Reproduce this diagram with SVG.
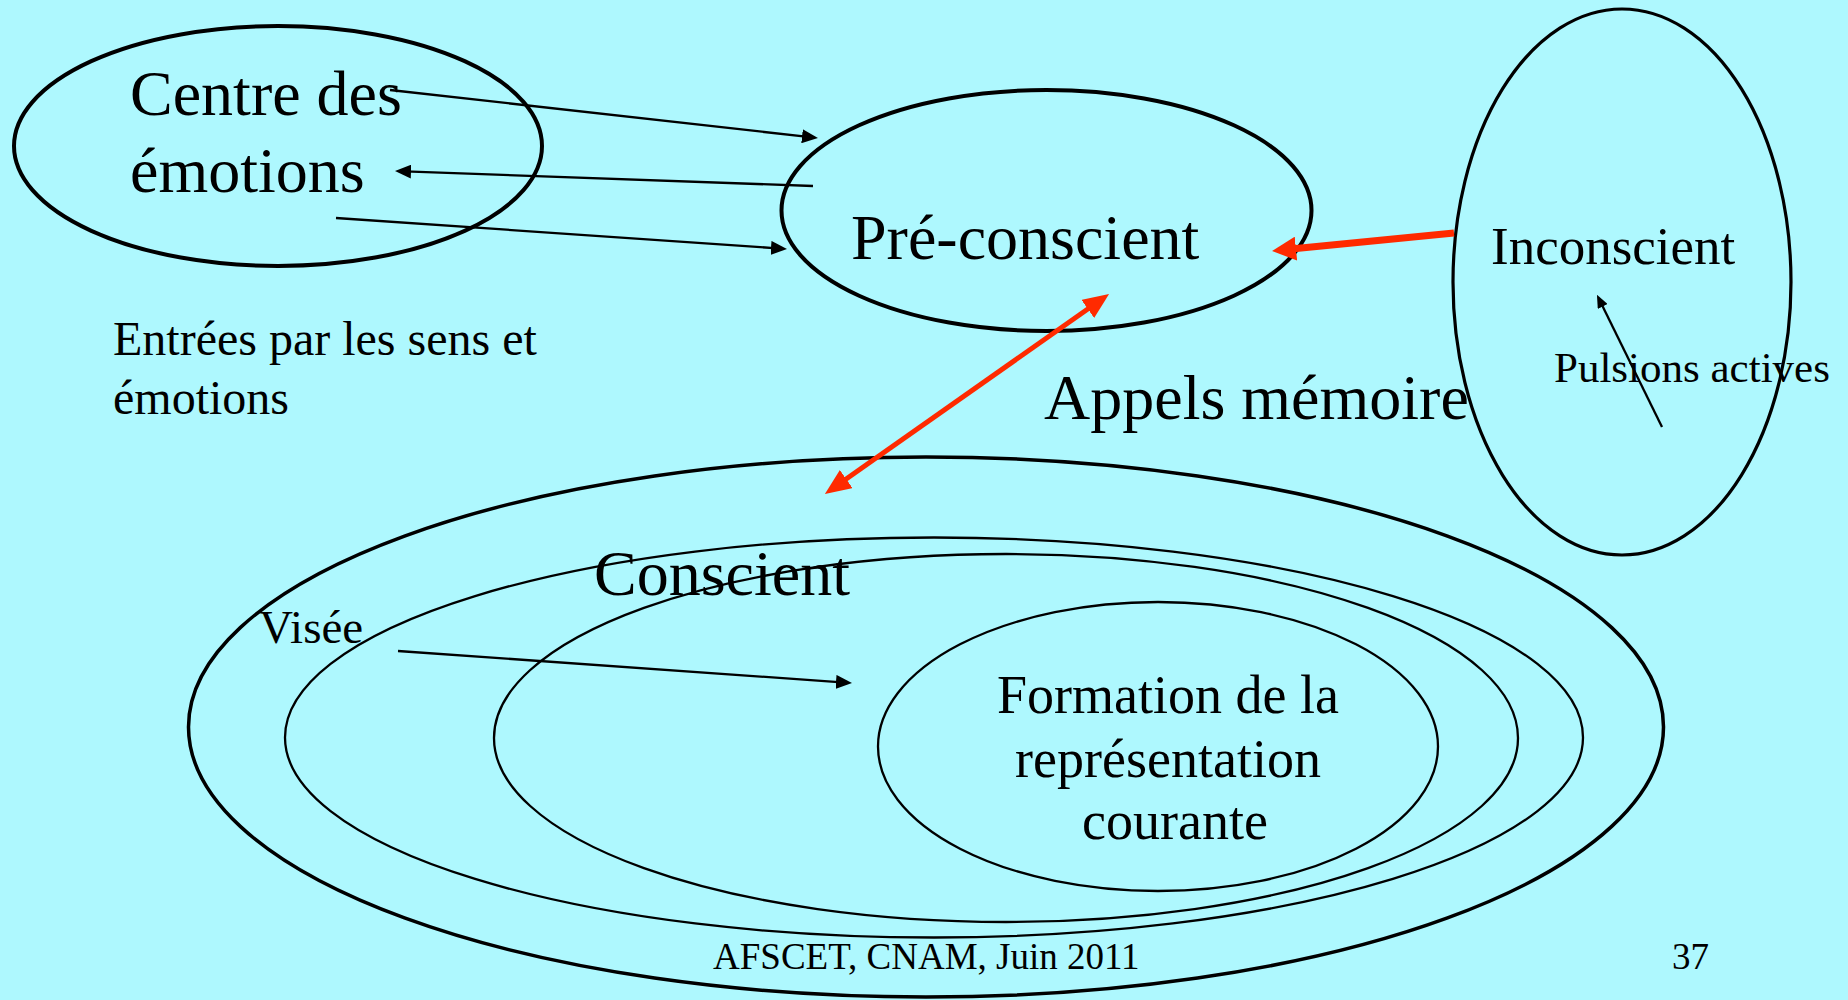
<svg xmlns="http://www.w3.org/2000/svg" width="1848" height="1000" viewBox="0 0 1848 1000">
  <style>
    text { font-family: "Liberation Serif", "Times New Roman", serif; fill: #000; }
    .big { font-size: 64px; }
    .mid { font-size: 53px; }
    .form { font-size: 54px; }
    .foot { font-size: 37px; }
    .shape { fill: none; stroke: #000; }
    .thin { stroke-width: 2.3; }
    .link { fill: none; stroke: #000; stroke-width: 2.3; }
    .red { fill: none; stroke: #FF2A00; }
  </style>
  <defs>
    <marker id="head" markerUnits="userSpaceOnUse" markerWidth="16" markerHeight="14" refX="6" refY="7" orient="auto">
      <path d="M0,0 L16,7 L0,14 z" fill="#000"/>
    </marker>
    <marker id="headSmall" markerUnits="userSpaceOnUse" markerWidth="13" markerHeight="11" refX="5" refY="5.5" orient="auto">
      <path d="M0,0 L13,5.5 L0,11 z" fill="#000"/>
    </marker>
    <marker id="redHead" markerUnits="userSpaceOnUse" markerWidth="24" markerHeight="24" refX="10" refY="12" orient="auto">
      <path d="M0,0 L24,12 L0,24 z" fill="#FF2A00"/>
    </marker>
    <marker id="redHead2" markerUnits="userSpaceOnUse" markerWidth="26" markerHeight="22" refX="10" refY="11" orient="auto-start-reverse">
      <path d="M0,0 L26,11 L0,22 z" fill="#FF2A00"/>
    </marker>
  </defs>

  <rect width="1848" height="1000" fill="#AEF8FE"/>

  <!-- Centre des émotions -->
  <g id="centre-emotions">
    <ellipse class="shape" cx="278" cy="146" rx="264" ry="120" stroke-width="4"/>
    <text class="big" x="130" y="115">Centre des</text>
    <text class="big" x="130" y="192">émotions</text>
  </g>

  <!-- Pré-conscient -->
  <g id="pre-conscient">
    <ellipse class="shape" cx="1046.5" cy="210.5" rx="265" ry="120.5" stroke-width="4"/>
    <text class="big" x="851" y="259">Pré-conscient</text>
  </g>

  <!-- Inconscient -->
  <g id="inconscient">
    <ellipse class="shape" cx="1622" cy="282" rx="169" ry="273" stroke-width="3.2"/>
    <text class="mid" x="1491" y="264">Inconscient</text>
    <text font-size="43" x="1554" y="382">Pulsions actives</text>
  </g>

  <!-- Entrées -->
  <g id="entrees">
    <text font-size="48" x="113" y="355">Entrées par les sens et</text>
    <text font-size="48" x="113" y="414">émotions</text>
  </g>

  <!-- Appels mémoire -->
  <g id="appels-memoire">
    <text class="big" x="1044" y="419">Appels mémoire</text>
  </g>

  <!-- Conscient: nested levels -->
  <g id="conscient">
    <ellipse class="shape" cx="926" cy="727" rx="737.5" ry="270" stroke-width="3.5"/>
    <ellipse class="shape thin" cx="934" cy="737.5" rx="649" ry="200"/>
    <ellipse class="shape thin" cx="1006" cy="738" rx="512" ry="184"/>
    <text class="big" x="594" y="595">Conscient</text>
    <text font-size="47" x="259" y="643">Visée</text>
  </g>

  <!-- Formation de la représentation courante -->
  <g id="formation">
    <ellipse class="shape thin" cx="1158" cy="746.5" rx="280" ry="144.5"/>
    <text class="form" x="1168" y="713" text-anchor="middle">Formation de la</text>
    <text class="form" x="1168" y="777" text-anchor="middle">représentation</text>
    <text class="form" x="1175" y="839" text-anchor="middle">courante</text>
  </g>

  <!-- Connectors -->
  <g id="connectors">
    <line class="link" x1="390" y1="90" x2="808" y2="136.9" marker-end="url(#head)"/>
    <line class="link" x1="813" y1="186" x2="405" y2="171.4" marker-end="url(#head)"/>
    <line class="link" x1="336" y1="218" x2="777" y2="248.3" marker-end="url(#head)"/>
    <line class="link" x1="398" y1="651" x2="842" y2="682.3" marker-end="url(#head)"/>
    <line class="link" stroke-width="1.6" x1="1662" y1="427" x2="1600.5" y2="302" marker-end="url(#headSmall)"/>
    <line class="red" stroke-width="7" x1="1454" y1="233" x2="1286" y2="249.6" marker-end="url(#redHead)"/>
    <line class="red" stroke-width="5" x1="838" y1="484.8" x2="1096" y2="303.2" marker-start="url(#redHead2)" marker-end="url(#redHead2)"/>
  </g>

  <!-- Footer -->
  <g id="footer">
    <text class="foot" x="713" y="969">AFSCET, CNAM, Juin 2011</text>
    <text class="foot" x="1672" y="969">37</text>
  </g>
</svg>
